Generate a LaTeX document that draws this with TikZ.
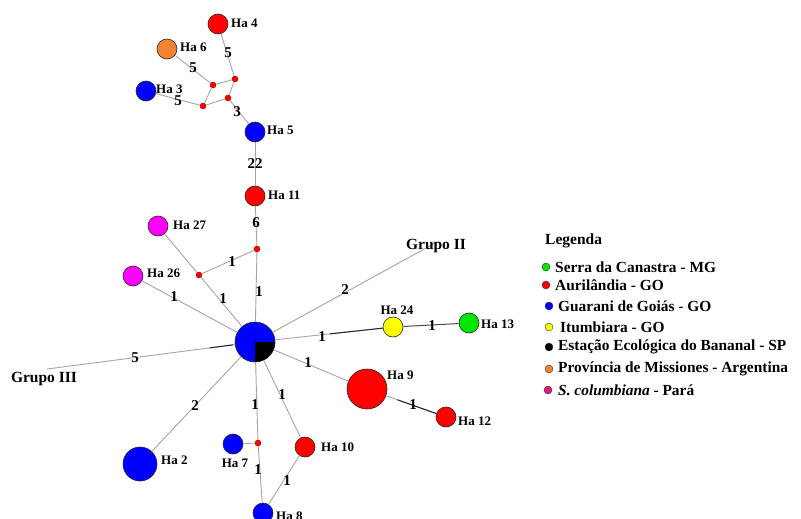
\documentclass[tikz,border=0pt]{standalone}
\usepackage{fontspec}
\setmainfont{Liberation Serif}
\definecolor{edgegray}{RGB}{165,165,165}
\definecolor{hgreen}{RGB}{0,230,0}
\definecolor{horange}{RGB}{245,130,50}
\definecolor{hpink}{RGB}{230,20,130}
\definecolor{hmag}{RGB}{255,0,255}
\definecolor{hred}{RGB}{255,0,0}
\definecolor{hblue}{RGB}{0,0,255}
\definecolor{hyellow}{RGB}{255,255,0}
\begin{document}
\begin{tikzpicture}[x=1pt,y=-1pt,
  hap/.style={circle, draw=black!85, line width=0.6pt, inner sep=0pt, minimum size=20pt},
  mv/.style={circle, fill=hred, draw=red!60!black, line width=0.4pt, inner sep=0pt, minimum size=6pt},
  lnk/.style={draw=edgegray, line width=0.9pt},
  dk/.style={draw=black!85, line width=1pt},
  num/.style={font=\fontsize{15}{15}\selectfont\bfseries, inner sep=0pt},
  hlab/.style={font=\fontsize{13}{13}\selectfont\bfseries, inner sep=0pt, anchor=west},
  grp/.style={font=\fontsize{15.5}{16}\selectfont\bfseries, inner sep=0pt},
  legdot/.style={circle, draw=black!80, line width=0.4pt, inner sep=0pt, minimum size=8pt},
  legtxt/.style={font=\fontsize{15.4}{16}\selectfont\bfseries, inner sep=0pt, anchor=west}
]
\useasboundingbox (0,0) rectangle (801,519);
\fill[white] (0,0) rectangle (801,519);

% haplotypes
\node[hap, fill=hred] (h4) at (218,24) {};
\node[hap, fill=horange] (h6) at (167,49) {};
\node[hap, fill=hblue] (h3) at (146,91) {};
\node[hap, fill=hblue] (h5) at (255,132) {};
\node[hap, fill=hred] (h11) at (255,196) {};
\node[hap, fill=hmag] (h27) at (158,226) {};
\node[hap, fill=hmag] (h26) at (133,276) {};
\node[hap, fill=hyellow] (h24) at (393,327) {};
\node[hap, fill=hgreen] (h13) at (469,323) {};
\node[hap, fill=hred, minimum size=40pt] (h9) at (367,389) {};
\node[hap, fill=hred] (h12) at (446,417) {};
\node[hap, fill=hblue, minimum size=34pt] (h2) at (140,464) {};
\node[hap, fill=hblue] (h7) at (233,444) {};
\node[hap, fill=hred] (h10) at (305,447) {};
\node[hap, fill=hblue] (h8) at (263,513) {};
\node[circle, fill=hblue, inner sep=0pt, minimum size=40pt] (c) at (255,342) {};
\fill[black] (c.center) -- (c.east) arc[start angle=0, end angle=-90, radius=20pt] -- cycle;
\draw[black!85, line width=0.6pt] (c.center) circle[radius=20pt];

% median vectors
\node[mv] (m1) at (235,79) {};
\node[mv] (m2) at (213,85) {};
\node[mv] (m3) at (228,98) {};
\node[mv] (m4) at (203,106) {};
\node[mv] (d1) at (257,249) {};
\node[mv] (d2) at (199,275) {};
\node[mv] (d3) at (258,443) {};

% group ends
\coordinate (g3) at (47,369);
\coordinate (g2) at (437,242);

% connectors
\draw[lnk] (h4) -- (m1);
\draw[lnk] (m1) -- (m2);
\draw[lnk] (h6) -- (m2);
\draw[lnk] (m2) -- (m4);
\draw[lnk] (m1) -- (m3);
\draw[lnk] (m4) -- (m3);
\draw[lnk] (h3) -- (m4);
\draw[lnk] (m3) -- (h5);
\draw[lnk] (h5) -- (h11);
\draw[lnk] (h11) -- (d1);
\draw[lnk] (d1) -- (c);
\draw[lnk] (d1) -- (d2);
\draw[lnk] (h27) -- (d2);
\draw[lnk] (d2) -- (c);
\draw[lnk] (h26) -- (c);
\draw[lnk] (c) -- (g3);
\draw[dk, shorten <=2pt, shorten >=164pt] (c) -- (g3);
\draw[lnk] (c) -- (g2);
\draw[lnk] (c) -- (h24);
\draw[dk, shorten <=55pt] (c) -- (h24);
\draw[dk, draw=black!70] (h24) -- (h13);
\draw[lnk] (c) -- (h9);
\draw[lnk] (h9) -- (h12);
\draw[dk, shorten <=12pt] (h9) -- (h12);
\draw[lnk] (c) -- (h2);
\draw[lnk] (c) -- (d3);
\draw[lnk] (d3) -- (h7);
\draw[lnk] (d3) -- (h8);
\draw[lnk] (c) -- (h10);
\draw[lnk] (h10) -- (h8);

% connector labels
\node[num] (n1) at (228,53) {5};
\node[num] (n2) at (193,68) {5};
\node[num] (n3) at (178,101) {5};
\node[num] (n4) at (237,112) {3};
\node[num] (n5) at (255,164) {22};
\node[num] (n6) at (256,223) {6};
\node[num] (n7) at (232,262) {1};
\node[num] (n8) at (259,292) {1};
\node[num] (n9) at (174,297) {1};
\node[num] (n10) at (223,299) {1};
\node[num] (n11) at (135,358) {5};
\node[num] (n12) at (345,290) {2};
\node[num] (n13) at (322,337) {1};
\node[num] (n14) at (432,326) {1};
\node[num] (n15) at (308,363) {1};
\node[num] (n16) at (413,405) {1};
\node[num] (n17) at (195,406) {2};
\node[num] (n18) at (255,405) {1};
\node[num] (n19) at (282,395) {1};
\node[num] (n20) at (258,470) {1};
\node[num] (n21) at (287,481) {1};

% haplotype labels
\node[hlab] (t4) at (231,23) {Ha 4};
\node[hlab] (t6) at (180,47) {Ha 6};
\node[hlab] (t3) at (156,89) {Ha 3};
\node[hlab] (t5) at (267,130) {Ha 5};
\node[hlab] (t11) at (268,195) {Ha 11};
\node[hlab] (t27) at (173,225) {Ha 27};
\node[hlab] (t26) at (147,273) {Ha 26};
\node[hlab, anchor=center] (t24) at (397,310) {Ha 24};
\node[hlab] (t13) at (481,324) {Ha 13};
\node[hlab] (t9) at (387,375) {Ha 9};
\node[hlab] (t12) at (458,421) {Ha 12};
\node[hlab] (t10) at (321,447) {Ha 10};
\node[hlab, anchor=center] (t7) at (235,463) {Ha 7};
\node[hlab] (t2) at (161,460) {Ha 2};
\node[hlab] (t8) at (276,516) {Ha 8};

% groups
\node[grp] (tg2) at (436,246) {Grupo II};
\node[grp] (tg3) at (44,379) {Grupo III};

% legend
\node[font=\fontsize{15.5}{16}\selectfont\bfseries, inner sep=0pt, anchor=west] (leg) at (545,241) {Legenda};
\node[legdot, fill=hgreen] (k1) at (546,267) {};
\node[legtxt] (l1) at (555,267) {Serra da Canastra - MG};
\node[legdot, fill=hred] (k2) at (546,285) {};
\node[legtxt] (l2) at (555,285) {Aurilândia - GO};
\node[legdot, fill=hblue] (k3) at (549,306) {};
\node[legtxt] (l3) at (558,306) {Guarani de Goiás - GO};
\node[legdot, fill=hyellow] (k4) at (549,327) {};
\node[legtxt] (l4) at (560,327) {Itumbiara - GO};
\node[legdot, fill=black] (k5) at (549,347) {};
\node[legtxt] (l5) at (558,347) {Estação Ecológica do Bananal - SP};
\node[legdot, fill=horange] (k6) at (549,369) {};
\node[legtxt] (l6) at (558,369) {Província de Missiones - Argentina};
\node[legdot, fill=hpink] (k7) at (548,390) {};
\node[legtxt] (l7) at (558,390) {\textit{S. columbiana} - Pará};
\end{tikzpicture}
\end{document}
